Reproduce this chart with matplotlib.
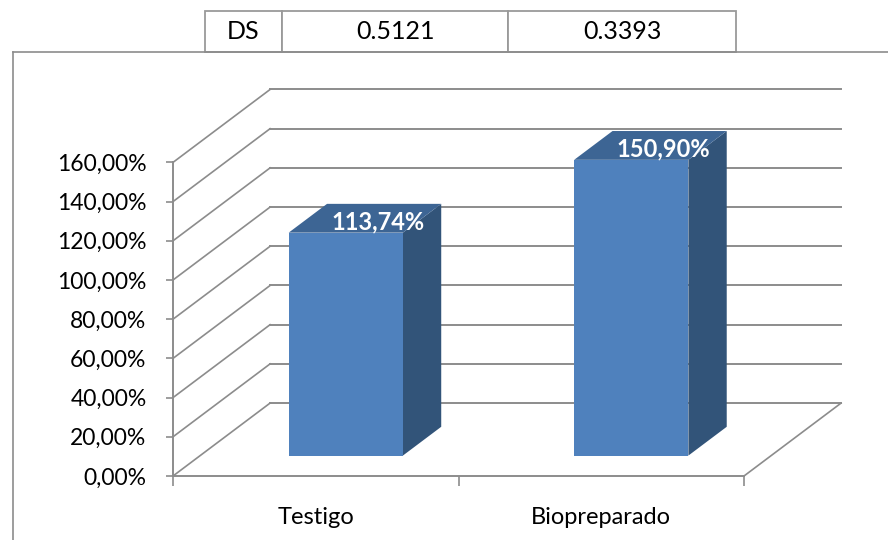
import matplotlib.pyplot as plt
from matplotlib.patches import Polygon
from matplotlib.lines import Line2D
from matplotlib.ticker import FuncFormatter

categories = ["Testigo", "Biopreparado"]
values = [113.74, 150.90]
value_labels = ["113,74%", "150,90%"]
ds_row = ["DS", "0.5121", "0.3393"]
y_ticks = [0, 20, 40, 60, 80, 100, 120, 140, 160]

W, H = 888, 540
GRID = "#8c8c8c"
FRONT, TOP, SIDE = "#4f81bd", "#3d6594", "#325479"

# oblique depth offset (category units, value units) for depth = 1
DX, DY = 0.34, 37.2
D_FRONT, D_BACK = 0.28, 0.675


def proj(x, v, d):
    return x + d * DX, v + d * DY


plt.rcParams["font.family"] = ["Lato", "DejaVu Sans"]
fig = plt.figure(figsize=(W / 100, H / 100), dpi=100)

# chart area frame (top and left edges)
fig.add_artist(Line2D([13 / W, 1], [1 - 52 / H, 1 - 52 / H], color="#8c8c8c", lw=1.2))
fig.add_artist(Line2D([13 / W, 13 / W], [0, 1 - 52 / H], color="#8c8c8c", lw=1.2))

# DS table above the chart
tax = fig.add_axes([205 / W, 1 - 52 / H, (736 - 205) / W, 41 / H])
tax.axis("off")
tbl = tax.table(cellText=[ds_row], colWidths=[77, 226, 228], cellLoc="center",
                bbox=[0, 0, 1, 1])
tbl.auto_set_font_size(False)
for cell in tbl.get_celld().values():
    cell.set_edgecolor("#9a9a9a")
    cell.set_linewidth(1.3)
    cell.get_text().set_fontsize(18)

ax = fig.add_axes([173 / W, (H - 476) / H, (744 - 173) / W, (476 - 162.4) / H])
ax.set_xlim(0, 2)
ax.set_ylim(0, 160)
ax.patch.set_visible(False)

# back wall and left wall gridlines
for v in y_ticks:
    (bx0, by0), (bx1, by1) = proj(0, v, 1), proj(2, v, 1)
    ax.plot([bx0, bx1], [by0, by1], color=GRID, lw=1.4, clip_on=False, zorder=1)
    ax.plot([0, bx0], [v, by0], color=GRID, lw=1.2, clip_on=False, zorder=1)
# floor right edge
fx, fy = proj(2, 0, 1)
ax.plot([2, fx], [0, fy], color=GRID, lw=1.2, clip_on=False, zorder=1)

# 3D bars
for i, val in enumerate(values):
    x0, x1 = i + 0.31, i + 0.71
    side = [proj(x1, 0, D_FRONT), proj(x1, 0, D_BACK), proj(x1, val, D_BACK), proj(x1, val, D_FRONT)]
    top = [proj(x0, val, D_FRONT), proj(x1, val, D_FRONT), proj(x1, val, D_BACK), proj(x0, val, D_BACK)]
    front = [proj(x0, 0, D_FRONT), proj(x1, 0, D_FRONT), proj(x1, val, D_FRONT), proj(x0, val, D_FRONT)]
    for pts, c in ((side, SIDE), (top, TOP), (front, FRONT)):
        ax.add_patch(Polygon(pts, closed=True, facecolor=c, edgecolor="none",
                             clip_on=False, zorder=3))
    lx, ly = proj(i + 0.555, val, (D_FRONT + D_BACK) / 2)
    ax.text(lx, ly - 2, value_labels[i], color="white", fontweight="bold",
            fontsize=17, ha="center", va="center", zorder=4, clip_on=False)

for s in ("top", "right"):
    ax.spines[s].set_visible(False)
for s in ("left", "bottom"):
    ax.spines[s].set_color(GRID)
    ax.spines[s].set_linewidth(1.4)

ax.set_yticks(y_ticks)
ax.yaxis.set_major_formatter(FuncFormatter(lambda v, _: f"{v:.2f}%".replace(".", ",")))
ax.tick_params(axis="y", direction="out", length=5, width=1.2, color=GRID,
               pad=14, labelsize=16.5, labelcolor="black")
ax.set_xticks([0, 1, 2])
ax.set_xticklabels([])
ax.set_xticks([0.5, 1.5], minor=True)
ax.set_xticklabels(categories, minor=True)
ax.tick_params(axis="x", which="major", direction="out", length=7, width=1.2, color=GRID)
ax.tick_params(axis="x", which="minor", length=0, pad=22, labelsize=17)

fig.savefig("out.png", dpi=100)
